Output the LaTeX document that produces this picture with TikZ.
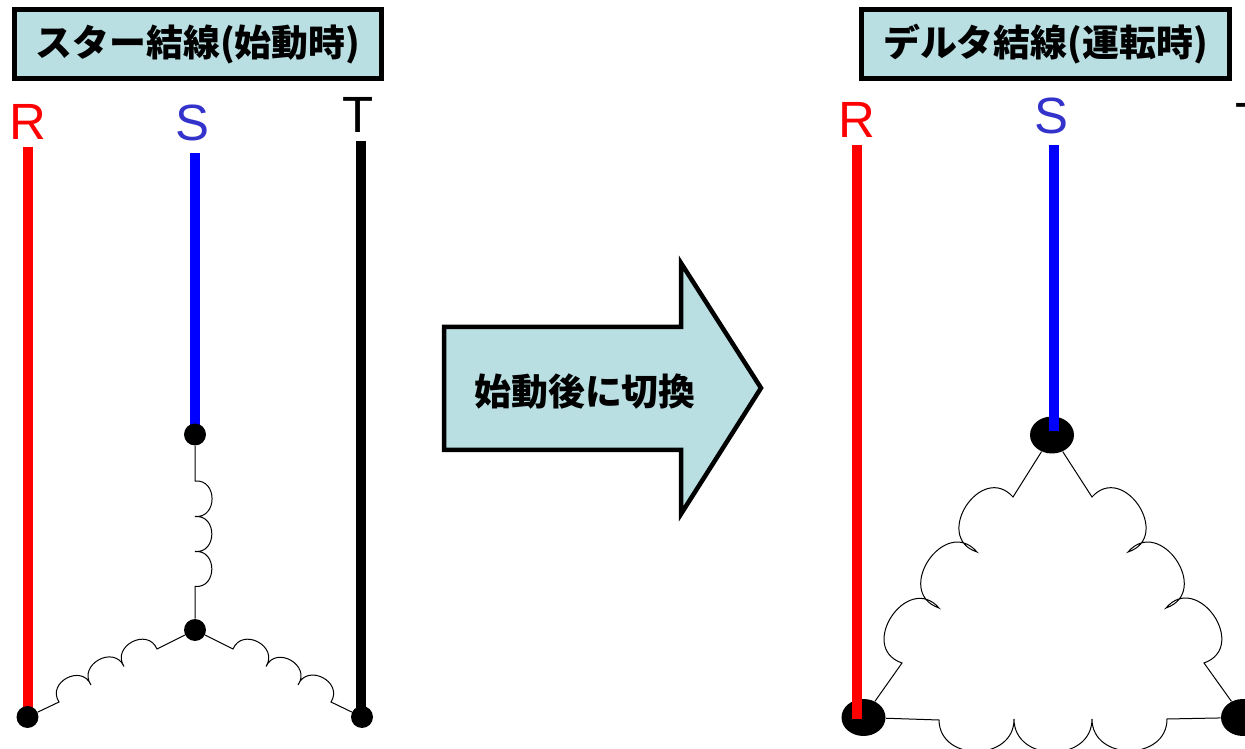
\documentclass[tikz,border=0pt]{standalone}
\usepackage{fontspec}
\setmainfont{Liberation Sans}
\newfontfamily\cjk{Noto Sans CJK JP}
\usetikzlibrary{shapes.geometric}

\definecolor{panelcol}{HTML}{B9DFE3}
\definecolor{letterS}{HTML}{3333CC}

\tikzset{
  titlebox/.style={draw=black, line width=0.1cm, fill=panelcol, minimum height=1.38cm, inner sep=0pt,
    font=\cjk\bfseries\fontsize{21}{24}\selectfont},
  phase/.style={line width=0.2cm},
  letter/.style={anchor=base, inner sep=0pt, font=\fontsize{29}{32}\selectfont},
  dot/.style={circle, fill=black, minimum size=0.44cm, inner sep=0pt},
  bigdot/.style={ellipse, fill=black, minimum width=0.88cm, minimum height=0.74cm, inner sep=0pt},
  wire/.style={draw=black, line width=0.02cm},
  coil/.style={bend left=95, looseness=1.65},
  lobeR/.style={bend left=105, looseness=1.85},
  lobeL/.style={bend right=105, looseness=1.85},
  lobeB/.style={bend right=90, looseness=1.45}
}

\begin{document}
\begin{tikzpicture}[x=0.02cm, y=-0.02cm]
    \clip (0, 0) rectangle (1245, 749);

    % star side
    \node[titlebox, minimum width=7.34cm] (startitle) at (198, 44) {スター結線(始動時)};

    \node[letter, red] (Rstar) at (27.5, 140) {R};
    \node[letter, letterS] (Sstar) at (192.5, 141) {S};
    \node[letter, black] (Tstar) at (358.5, 133) {T};

    \coordinate (Rstartop) at (28, 147);
    \coordinate (Sstartop) at (194.5, 153);
    \coordinate (Tstartop) at (361, 141);
    \coordinate (Rstarend) at (28, 717);
    \coordinate (Sstarend) at (194.5, 434);
    \coordinate (Tstarend) at (361, 717);
    \draw[phase, red] (Rstartop) -- (Rstarend);
    \draw[phase, blue] (Sstartop) -- (Sstarend);
    \draw[phase, black] (Tstartop) -- (Tstarend);

    \node[dot] (Rdot) at (27.5, 717) {};
    \node[dot] (Sdot) at (195, 434.5) {};
    \node[dot] (Tdot) at (362, 717) {};
    \node[dot] (Ndot) at (195, 630) {};

    \draw[wire] (Sdot) -- (195, 481) to[coil] (195, 516.5) to[coil] (195, 551.5) to[coil] (195, 586.5) -- (Ndot);
    \draw[wire] (Rdot) -- (59, 702) to[coil] (91, 685) to[coil] (124, 666.5) to[coil] (157, 649) -- (Ndot);
    \draw[wire] (Ndot) -- (233, 649) to[coil] (266, 666.5) to[coil] (298, 685) to[coil] (331, 702) -- (Tdot);

    % change-over arrow
    \draw[line width=0.09cm, fill=panelcol, miter limit=10] (444, 327) -- (681, 327) -- (681, 263) -- (761, 388)
        -- (681, 514) -- (681, 450) -- (444, 450) -- cycle;
    \node[inner sep=0pt, font=\cjk\bfseries\fontsize{21}{24}\selectfont] (arrowtext) at (585, 392) {始動後に切換};

    % delta side
    \node[titlebox, minimum width=7.36cm] (deltatitle) at (1045.5, 44) {デルタ結線(運転時)};

    \node[letter, red] (Rdelta) at (857, 138) {R};
    \node[letter, letterS] (Sdelta) at (1051, 134) {S};
    \node[letter, black] (Tdelta) at (1251, 139) {T};

    \node[bigdot] (Adot) at (1052, 435) {};
    \node[bigdot] (Bdot) at (863.5, 717.5) {};
    \node[bigdot] (Cdot) at (1243, 717.5) {};

    \coordinate (Rdeltatop) at (857, 145);
    \coordinate (Sdeltatop) at (1054, 145);
    \coordinate (Tdeltatop) at (1249.7, 145);
    \coordinate (Rdeltaend) at (857, 719);
    \coordinate (Sdeltaend) at (1054, 431);
    \coordinate (Tdeltaend) at (1249.7, 717);
    \draw[phase, red] (Rdeltatop) -- (Rdeltaend);
    \draw[phase, blue] (Sdeltatop) -- (Sdeltaend);
    \draw[phase, black] (Tdeltatop) -- (Tdeltaend);

    \draw[wire] (Adot) -- (1013, 497) to[lobeL] (977, 552) to[lobeL] (939, 608) to[lobeL] (902, 663) -- (Bdot);
    \draw[wire] (Adot) -- (1092, 497) to[lobeR] (1128, 552) to[lobeR] (1166, 608) to[lobeR] (1204, 663) -- (Cdot);
    \draw[wire] (Bdot) -- (939, 720) to[lobeB] (1014, 719) to[lobeB] (1092, 719) to[lobeB] (1167, 719) -- (Cdot);

\end{tikzpicture}
\end{document}
